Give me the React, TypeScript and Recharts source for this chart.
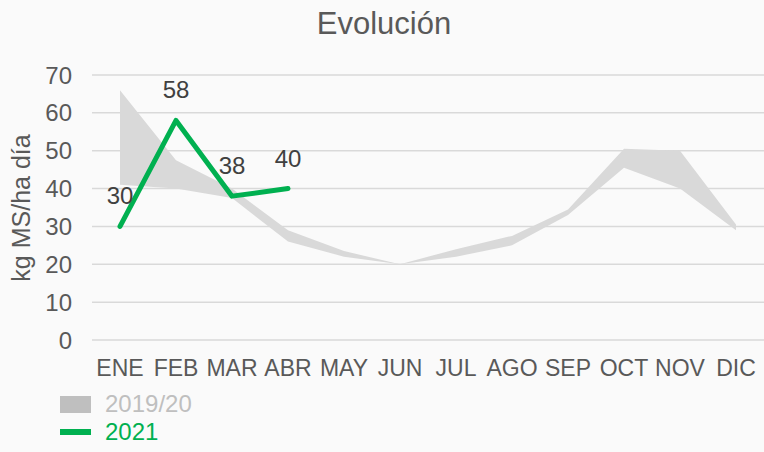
import {
  ComposedChart,
  Area,
  Line,
  XAxis,
  YAxis,
  CartesianGrid,
  LabelList,
  Legend,
} from "recharts";

const months = [
  "ENE", "FEB", "MAR", "ABR", "MAY", "JUN",
  "JUL", "AGO", "SEP", "OCT", "NOV", "DIC",
];

// 2019/20 band: min and max of the two seasons
const low2019 = [41, 40, 37.5, 26, 22, 20, 22, 25, 33, 45.5, 40, 29];
const high2019 = [66, 47.5, 40, 29, 23.5, 20, 24, 27.5, 34.5, 50.5, 50, 30.5];

// 2021, only the first four months
const values2021 = [30, 58, 38, 40, null, null, null, null, null, null, null, null];

const yTicks = [0, 10, 20, 30, 40, 50, 60, 70];

const data = months.map((m, i) => ({
  month: m,
  range: [low2019[i], high2019[i]],
  y2021: values2021[i],
}));

const FONT = '"Liberation Sans", Arial, sans-serif';

const YTitle = () => (
  <text
    x={30}
    y={208}
    transform="rotate(-90 30 208)"
    textAnchor="middle"
    fill="#595959"
    fontSize={25}
  >
    kg MS/ha día
  </text>
);

const CustomLegend = () => (
  <div style={{ fontFamily: FONT, fontSize: 24 }}>
    <div style={{ display: "flex", alignItems: "center", height: 28 }}>
      <div style={{ width: 31, height: 17, background: "#bfbfbf" }} />
      <span style={{ marginLeft: 14, color: "#bfbfbf" }}>2019/20</span>
    </div>
    <div style={{ display: "flex", alignItems: "center", height: 28 }}>
      <div style={{ width: 31, height: 6, background: "#00b050" }} />
      <span style={{ marginLeft: 14, color: "#00b050" }}>2021</span>
    </div>
  </div>
);

export default function App() {
  return (
    <div
      style={{
        position: "fixed",
        left: 0,
        top: 0,
        width: 764,
        height: 452,
        background: "#fafafa",
        fontFamily: FONT,
      }}
    >
      <div
        style={{
          position: "absolute",
          top: 8,
          left: 0,
          width: 768,
          textAlign: "center",
          fontSize: 31,
          lineHeight: "31px",
          color: "#595959",
        }}
      >
        Evolución
      </div>
      <ComposedChart
        width={764}
        height={452}
        data={data}
        margin={{ top: 75, right: 0, left: 10, bottom: 82 }}
      >
        <CartesianGrid stroke="#d9d9d9" strokeWidth={1.5} vertical={false} />
        <XAxis
          dataKey="month"
          scale="band"
          interval={0}
          height={30}
          axisLine={false}
          tickLine={false}
          tickSize={0}
          tickMargin={20}
          tick={{ fill: "#595959", fontSize: 23 }}
        />
        <YAxis
          domain={[0, 70]}
          ticks={yTicks}
          width={82}
          axisLine={false}
          tickLine={false}
          tickSize={0}
          tickMargin={20}
          tick={{ fill: "#595959", fontSize: 24 }}
          label={<YTitle />}
        />
        <Legend
          layout="horizontal"
          align="center"
          verticalAlign="middle"
          content={<CustomLegend />}
          wrapperStyle={{ left: 60, top: 390, width: 200, height: 56 }}
        />
        <Area
          dataKey="range"
          name="2019/20"
          stroke="none"
          fill="#d9d9d9"
          fillOpacity={1}
          isAnimationActive={false}
        />
        <Line
          dataKey="y2021"
          name="2021"
          stroke="#00b050"
          strokeWidth={5}
          strokeLinecap="round"
          strokeLinejoin="round"
          dot={false}
          activeDot={false}
          isAnimationActive={false}
        >
          <LabelList
            dataKey="y2021"
            position="top"
            offset={22}
            fill="#404040"
            fontSize={24}
          />
        </Line>
      </ComposedChart>
    </div>
  );
}
